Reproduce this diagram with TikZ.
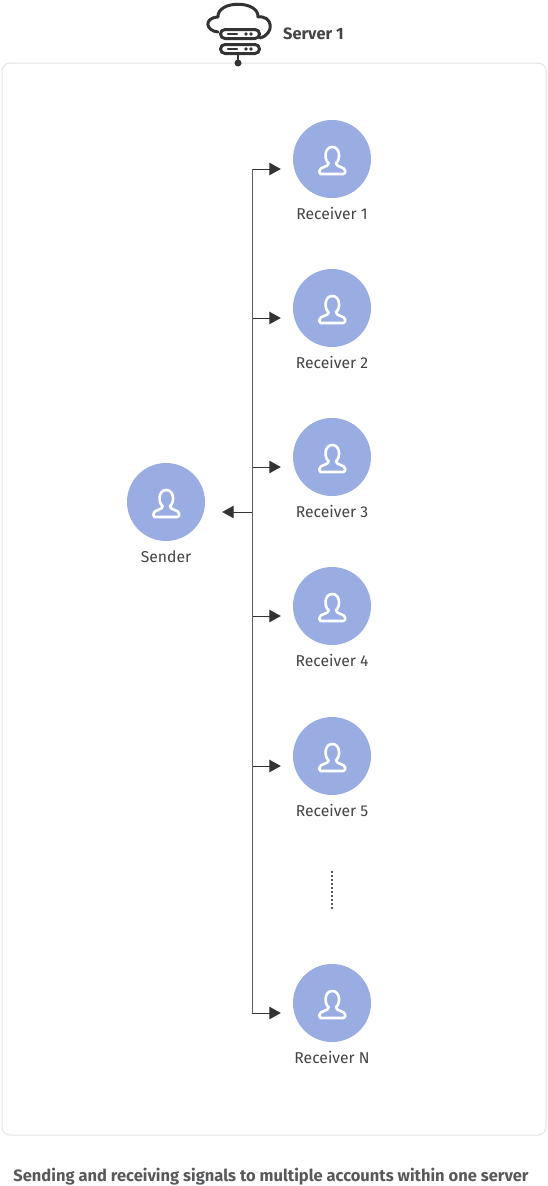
\documentclass[tikz,border=0pt]{standalone}
\usepackage{fontspec}
\setmainfont{Fira Sans}
\usetikzlibrary{arrows.meta,positioning,calc}
\definecolor{Ink}{HTML}{333333}
\definecolor{Label}{HTML}{444444}
\definecolor{Muted}{HTML}{58595B}
\definecolor{Trunk}{HTML}{5F5F5F}
\definecolor{Pale}{HTML}{9AADE2}
\definecolor{Rule}{HTML}{E3E3E3}
\tikzset{panel/.style={draw=Rule,fill=white,rounded corners=8pt,line width=1pt},
  person/.style={circle,fill=Pale,minimum size=78pt,inner sep=0pt},
  namelabel/.style={below=9pt,inner sep=0pt,font=\fontsize{15.7}{18}\selectfont,text=Label},
  trunkline/.style={draw=Trunk,line width=1pt},
  edge/.style={-{Triangle[length=11.5pt,width=12.5pt]},line width=1pt,draw=Ink},
  iconline/.style={draw=Ink,line width=3pt,line cap=round,line join=round},
  headline/.style={draw=white,line width=2.6pt,line join=round},
  pics/usericon/.style={code={
    \draw[headline,rounded corners=1.5pt] (-12.8,14.3) -- (12.8,14.3) -- (12.8,10);
    \draw[headline] (12.8,11)
      .. controls (12.8,7) and (3.6,7.5) .. (3.6,3.5)
      .. controls (8.5,0) and (8,-12.7) .. (0,-12.7)
      .. controls (-8,-12.7) and (-8.5,0) .. (-3.6,3.5)
      .. controls (-3.6,7.5) and (-12.8,7) .. (-12.8,11) -- (-12.8,12.8)
      .. controls (-12.8,14) and (-12.8,14.3) .. (-11.5,14.3);
    \draw[headline] (12.8,11) -- (12.8,12.8);
  }}}

\begin{document}
\begin{tikzpicture}[x=1pt,y=-1pt]
    \useasboundingbox (0,0) rectangle (548,1186);
    \node[panel,minimum width=544pt,minimum height=1072pt,inner sep=0pt] (panel) at (274,599) {};
    % server icon
    \draw[iconline] (218,32) .. controls (206,31) and (203,18) .. (218,17)
      .. controls (217,0) and (259,0) .. (258,17)
      .. controls (273,15) and (275,34) .. (260,38);
    \draw[iconline,fill=white,rounded corners=4.5pt] (220.5,29.5) rectangle (259.5,38.5);
    \draw[iconline,fill=white,rounded corners=4.5pt] (220.5,44.5) rectangle (259.5,53.5);
    \draw[iconline,line width=2.4pt] (228,34) -- (237,34) (228,49) -- (237,49);
    \fill[Ink] (246,34) circle (1.9) (251,34) circle (1.9) (246,49) circle (1.9) (251,49) circle (1.9);
    \coordinate (stemtop) at (238,55);
    \node[circle,fill=Ink,minimum size=7pt,inner sep=0pt] (stemdot) at (238,63) {};
    \draw[iconline,line width=2pt] (stemtop) -- (stemdot);
    \node[anchor=west,inner sep=0pt,font=\fontsize{16.4}{18}\selectfont\bfseries,text=Label] (server) at (283,33.5) {Server 1};
    % people
    \node[person] (sender) at (166,502) {};
    \pic at ($(sender)+(0.3,0.7)$) {usericon};
    \node[namelabel] (senderlabel) at (sender.south) {Sender};
    \foreach \name/\ypos in {1/159,2/308,3/457,4/606,5/756,N/1003} {
      \node[person] (rcv\name) at (332,\ypos) {};
      \pic at ($(rcv\name)+(0.3,0.7)$) {usericon};
      \node[namelabel] (rcvlabel\name) at (rcv\name.south) {Receiver \name};
      \coordinate (tip\name) at ($(rcv\name.west)+(-12,10)$);
      \coordinate (stub\name) at (252,\ypos+10);
      \draw[edge] (stub\name) -- (tip\name);
    }
    \coordinate (stubS) at (252,512);
    \coordinate (tipS) at ($(sender.east)+(17,10)$);
    \draw[edge] (stubS) -- (tipS);
    \draw[trunkline] (tip1 -| stub1) -- (stubN);
    \coordinate (dotstop) at (332,871);
    \coordinate (dotsbot) at (332,909);
    \draw[draw=Muted,line width=2.4pt,dash pattern=on 1.8pt off 2.2pt] (dotstop) -- (dotsbot);
    \node[inner sep=0pt,font=\fontsize{16.5}{19}\selectfont\bfseries,text=Muted] (caption) at (271,1176.5)
      {Sending and receiving signals to multiple accounts within one server};
  \end{tikzpicture}
\end{document}
